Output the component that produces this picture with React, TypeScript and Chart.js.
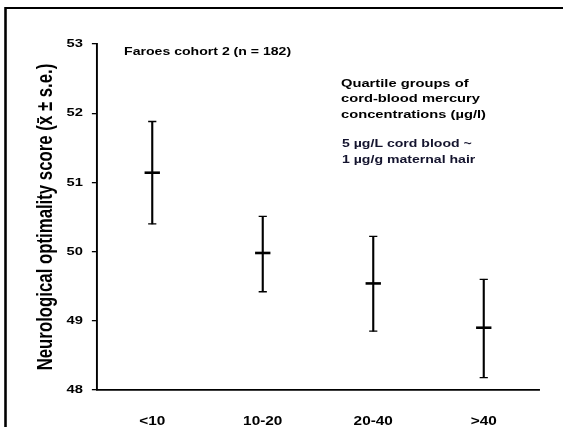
import React, { useEffect, useRef } from 'react';
import { Chart, registerables } from 'chart.js';

Chart.register(...registerables);

// ---- data ----
const categories = ['<10', '10-20', '20-40', '>40'];
const means = [51.14, 49.98, 49.54, 48.9];
const upper = [51.88, 50.51, 50.22, 49.6];
const lower = [50.4, 49.42, 48.85, 48.18];
const yTicks = [48, 49, 50, 51, 52, 53];
const yTitle = 'Neurological optimality score (x\u0304 \u00B1 s.e.)';
const cohortLabel = 'Faroes cohort 2 (n = 182)';
const quartileNote = ['Quartile groups of', 'cord-blood mercury', 'concentrations (\u00B5g/l)'];
const conversionNote = ['5 \u00B5g/L cord blood ~', '1 \u00B5g/g maternal hair'];

// ---- layout ----
const W = 563;
const H = 427;
const IW = 440; // internal drawing width, stretched horizontally to W
const SX = W / IW;
const FAMILY = "'Liberation Sans', Arial, Helvetica, sans-serif";

export default function App() {
  const ref = useRef<HTMLCanvasElement | null>(null);

  useEffect(() => {
    const canvas = ref.current;
    if (!canvas) return;

    const stretchAndNotes = {
      id: 'stretchAndNotes',
      beforeDraw(chart: any) {
        const ctx = chart.ctx;
        ctx.save();
        ctx.setTransform(SX, 0, 0, 1, 0, 0);
      },
      afterDraw(chart: any) {
        const ctx = chart.ctx;
        // frame (top and left edges)
        ctx.save();
        ctx.strokeStyle = '#000';
        ctx.lineWidth = 2;
        ctx.beginPath();
        ctx.moveTo(4.3, H);
        ctx.lineTo(4.3, 8);
        ctx.lineTo(IW, 8);
        ctx.stroke();

        ctx.textAlign = 'left';
        ctx.textBaseline = 'alphabetic';
        ctx.fillStyle = '#000';
        ctx.font = `bold 11px ${FAMILY}`;
        ctx.fillText(cohortLabel, 97, 55);

        ctx.font = `bold 11.5px ${FAMILY}`;
        const qy = [87.3, 102.3, 117.5];
        quartileNote.forEach((t, i) => ctx.fillText(t, 266.5, qy[i]));

        ctx.fillStyle = '#14142e';
        ctx.font = `bold 11px ${FAMILY}`;
        const cy = [146.7, 163.3];
        conversionNote.forEach((t, i) => ctx.fillText(t, 267.3, cy[i]));
        ctx.restore();

        ctx.restore();
      },
    };

    const pointSet = (data: number[], radius: number, width: number) => ({
      type: 'line' as const,
      data,
      showLine: false,
      pointStyle: 'line' as const,
      pointRadius: radius,
      pointHoverRadius: radius,
      pointBorderWidth: width,
      pointHoverBorderWidth: width,
      pointBorderColor: '#000',
      pointBackgroundColor: '#000',
      borderColor: '#000',
      backgroundColor: '#000',
    });

    const tickFont = { family: FAMILY, size: 11.5, weight: 'bold' as const };

    const chart = new Chart(canvas, {
      type: 'bar',
      data: {
        labels: categories,
        datasets: [
          {
            type: 'bar',
            data: lower.map((l, i) => [l, upper[i]]) as any,
            backgroundColor: '#000',
            borderWidth: 0,
            barThickness: 1.0,
          },
          pointSet(upper, 3.2, 1.3),
          pointSet(lower, 3.2, 1.3),
          pointSet(means, 6, 2.6),
        ] as any,
      },
      options: {
        animation: false,
        responsive: false,
        maintainAspectRatio: false,
        devicePixelRatio: 1,
        events: [],
        layout: { padding: { left: 0, right: IW - 539 / SX, top: 44, bottom: 0 } },
        plugins: {
          legend: { display: false },
          tooltip: { enabled: false },
          title: { display: false },
        },
        scales: {
          x: {
            type: 'category',
            offset: true,
            grid: { display: false, drawTicks: false },
            border: { display: true, color: '#000', width: 1.8 },
            ticks: {
              color: '#000',
              font: { family: FAMILY, size: 12, weight: 'bold' },
              padding: 24,
              maxRotation: 0,
              autoSkip: false,
            },
            afterFit: (s: any) => {
              s.height = H - 390;
            },
          },
          y: {
            type: 'linear',
            min: 48,
            max: 53,
            afterBuildTicks: (s: any) => {
              s.ticks = yTicks.map((v) => ({ value: v }));
            },
            ticks: { color: '#000', font: tickFont, padding: 7 },
            grid: {
              drawOnChartArea: false,
              drawTicks: true,
              tickLength: 4,
              color: '#000',
              lineWidth: 1.3,
            },
            border: { display: true, color: '#000', width: 1.5 },
            title: {
              display: true,
              text: yTitle,
              color: '#000',
              font: { family: FAMILY, size: 16.8, weight: 'bold' },
              padding: { top: 26, bottom: 0 },
            },
            afterFit: (s: any) => {
              s.width = 97 / SX;
            },
          },
        },
      } as any,
      plugins: [stretchAndNotes],
    });

    // widen the backing store to full page width; drawing is stretched by the plugin
    canvas.width = W;
    canvas.height = H;
    chart.draw();

    return () => {
      chart.destroy();
    };
  }, []);

  return (
    <div
      style={{
        position: 'fixed',
        left: 0,
        top: 0,
        width: W,
        height: H,
        background: '#fff',
        overflow: 'hidden',
      }}
    >
      <canvas
        ref={ref}
        width={IW}
        height={H}
        style={{ width: `${W}px`, height: `${H}px`, display: 'block' }}
      />
    </div>
  );
}
